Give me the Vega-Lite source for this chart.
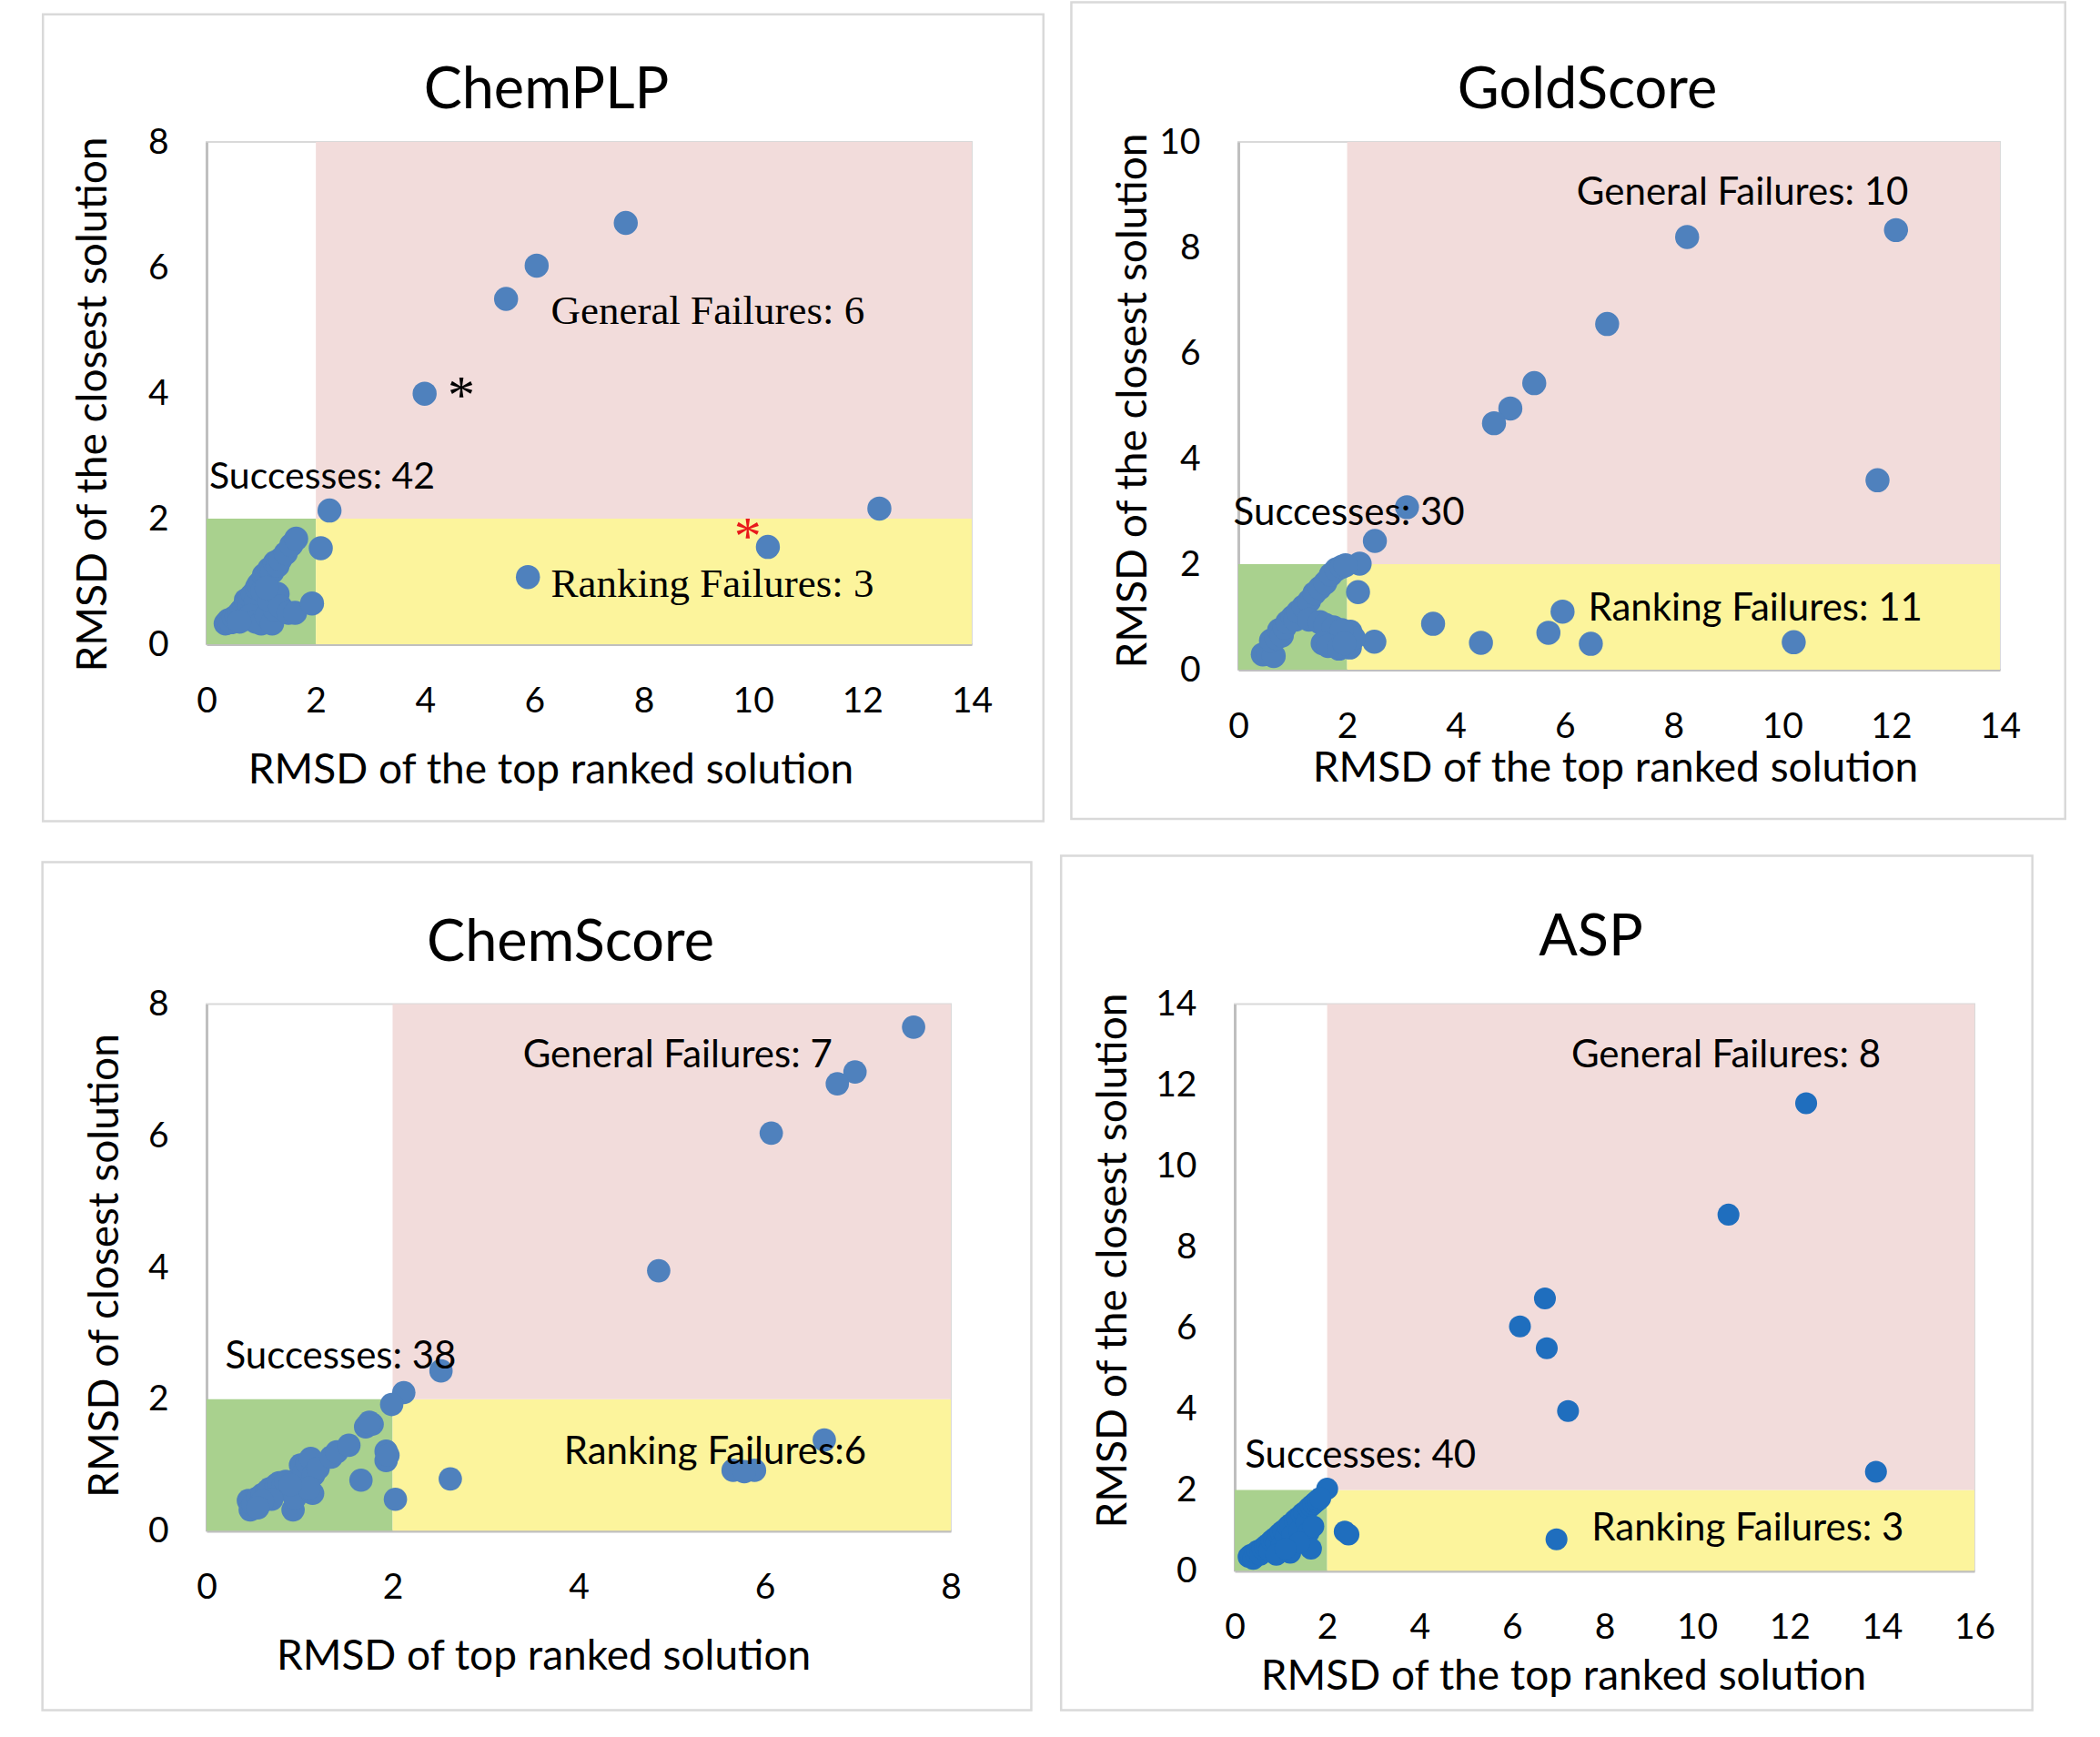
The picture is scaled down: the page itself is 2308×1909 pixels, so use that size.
{
  "$schema": "https://vega.github.io/schema/vega-lite/v6.json",
  "background": "white",
  "padding": {"left": 44, "top": 0, "right": 0, "bottom": 0},
  "config": {
    "view": {"stroke": "#D9D9D9", "strokeWidth": 2},
    "axis": {"grid": false, "ticks": false, "tickSize": 0, "domainColor": "#BFBFBF", "domainWidth": 3, "labelFont": "Lato", "labelFontSize": 39, "labelColor": "#000000", "labelFlush": false, "labelOverlap": false, "labelBound": false, "format": "d", "titleFont": "Lato", "titleFontSize": 46, "titleFontWeight": "normal", "titleColor": "#000000", "titleBaseline": "alphabetic"},
    "axisX": {"labelPadding": 43, "labelAngle": 0},
    "axisY": {"labelPadding": 42},
    "title": {"font": "Lato", "fontSize": 63, "fontWeight": "normal", "color": "#000000", "baseline": "alphabetic", "anchor": "middle"}
  },
  "datasets": {
    "zones": [
      {"x1": 0, "x2": 2, "y1": 0, "y2": 2, "zone": "Success"},
      {"x1": 2, "x2": 100, "y1": 0, "y2": 2, "zone": "Ranking failure"},
      {"x1": 2, "x2": 100, "y1": 2, "y2": 100, "zone": "General failure"}
    ],
    "chemplp": [
      {"x": 7.67, "y": 6.71}, {"x": 6.04, "y": 6.03}, {"x": 5.48, "y": 5.5}, {"x": 3.99, "y": 3.99}, {"x": 2.25, "y": 2.13}, {"x": 12.31, "y": 2.16},
      {"x": 10.27, "y": 1.55}, {"x": 5.88, "y": 1.07}, {"x": 2.09, "y": 1.53},
      {"x": 0.35, "y": 0.33}, {"x": 0.4, "y": 0.38}, {"x": 0.45, "y": 0.35}, {"x": 0.5, "y": 0.42}, {"x": 0.55, "y": 0.45}, {"x": 0.6, "y": 0.5}, {"x": 0.65, "y": 0.55}, {"x": 0.7, "y": 0.6}, {"x": 0.72, "y": 0.7}, {"x": 0.78, "y": 0.65}, {"x": 0.8, "y": 0.75}, {"x": 0.85, "y": 0.8}, {"x": 0.9, "y": 0.7}, {"x": 0.92, "y": 0.9}, {"x": 0.95, "y": 0.95}, {"x": 1.0, "y": 1.0}, {"x": 1.02, "y": 0.85}, {"x": 1.05, "y": 1.1}, {"x": 1.1, "y": 1.05}, {"x": 1.15, "y": 1.2}, {"x": 1.2, "y": 1.15}, {"x": 1.25, "y": 1.3}, {"x": 1.3, "y": 1.25}, {"x": 1.35, "y": 1.35}, {"x": 1.45, "y": 1.45}, {"x": 1.55, "y": 1.58}, {"x": 1.64, "y": 1.68},
      {"x": 0.7, "y": 0.4}, {"x": 0.8, "y": 0.45}, {"x": 0.9, "y": 0.36}, {"x": 1.0, "y": 0.33}, {"x": 1.1, "y": 0.45}, {"x": 1.2, "y": 0.33}, {"x": 1.25, "y": 0.55}, {"x": 1.15, "y": 0.7}, {"x": 1.3, "y": 0.8}, {"x": 1.35, "y": 0.6}, {"x": 1.5, "y": 0.5}, {"x": 1.62, "y": 0.5}, {"x": 1.93, "y": 0.65}, {"x": 1.1, "y": 0.9}, {"x": 0.6, "y": 0.36}
    ],
    "goldscore": [
      {"x": 8.25, "y": 8.2}, {"x": 12.09, "y": 8.33}, {"x": 6.78, "y": 6.55}, {"x": 5.44, "y": 5.43}, {"x": 5.0, "y": 4.95}, {"x": 4.7, "y": 4.67}, {"x": 11.75, "y": 3.59}, {"x": 3.1, "y": 3.08}, {"x": 2.51, "y": 2.44}, {"x": 2.23, "y": 2.01},
      {"x": 2.2, "y": 1.47}, {"x": 2.5, "y": 0.53}, {"x": 2.06, "y": 0.72}, {"x": 3.58, "y": 0.87}, {"x": 4.46, "y": 0.51}, {"x": 5.7, "y": 0.7}, {"x": 5.96, "y": 1.1}, {"x": 6.48, "y": 0.49}, {"x": 10.21, "y": 0.52}, {"x": 2.05, "y": 0.42}, {"x": 2.12, "y": 0.6},
      {"x": 0.45, "y": 0.29}, {"x": 0.55, "y": 0.3}, {"x": 0.65, "y": 0.26}, {"x": 0.6, "y": 0.55}, {"x": 0.7, "y": 0.6}, {"x": 0.75, "y": 0.75}, {"x": 0.8, "y": 0.65}, {"x": 0.85, "y": 0.8}, {"x": 0.9, "y": 0.9}, {"x": 1.0, "y": 1.0}, {"x": 1.05, "y": 0.95}, {"x": 1.1, "y": 1.1}, {"x": 1.2, "y": 1.2}, {"x": 1.3, "y": 1.3}, {"x": 1.4, "y": 1.45}, {"x": 1.5, "y": 1.55}, {"x": 1.6, "y": 1.65}, {"x": 1.7, "y": 1.8}, {"x": 1.8, "y": 1.9}, {"x": 1.9, "y": 1.95}, {"x": 1.97, "y": 1.98},
      {"x": 1.3, "y": 0.95}, {"x": 1.5, "y": 0.9}, {"x": 1.6, "y": 0.85}, {"x": 1.75, "y": 0.8}, {"x": 1.9, "y": 0.75}, {"x": 1.55, "y": 0.5}, {"x": 1.65, "y": 0.45}, {"x": 1.85, "y": 0.4}, {"x": 1.95, "y": 0.5}
    ],
    "chemscore": [
      {"x": 7.6, "y": 7.65}, {"x": 6.97, "y": 6.97}, {"x": 6.78, "y": 6.79}, {"x": 6.07, "y": 6.04}, {"x": 4.86, "y": 3.95}, {"x": 2.52, "y": 2.43}, {"x": 2.12, "y": 2.1},
      {"x": 6.64, "y": 1.38}, {"x": 5.66, "y": 0.92}, {"x": 5.89, "y": 0.92}, {"x": 5.78, "y": 0.9}, {"x": 2.62, "y": 0.79}, {"x": 2.03, "y": 0.48},
      {"x": 0.45, "y": 0.46}, {"x": 0.47, "y": 0.32}, {"x": 0.5, "y": 0.4}, {"x": 0.55, "y": 0.5}, {"x": 0.6, "y": 0.55}, {"x": 0.65, "y": 0.6}, {"x": 0.68, "y": 0.64}, {"x": 0.72, "y": 0.55}, {"x": 0.75, "y": 0.7}, {"x": 0.78, "y": 0.73}, {"x": 0.82, "y": 0.68}, {"x": 0.85, "y": 0.75}, {"x": 0.93, "y": 0.32}, {"x": 0.95, "y": 0.5}, {"x": 1.0, "y": 0.82}, {"x": 1.01, "y": 1.0}, {"x": 1.05, "y": 0.9}, {"x": 1.08, "y": 1.03}, {"x": 1.12, "y": 1.1}, {"x": 1.14, "y": 0.57}, {"x": 1.15, "y": 0.85}, {"x": 1.2, "y": 0.95}, {"x": 1.34, "y": 1.12}, {"x": 1.4, "y": 1.2}, {"x": 1.53, "y": 1.3}, {"x": 1.66, "y": 0.77}, {"x": 1.71, "y": 1.58}, {"x": 1.78, "y": 1.62}, {"x": 1.75, "y": 1.65}, {"x": 1.93, "y": 1.21}, {"x": 1.93, "y": 1.07}, {"x": 1.95, "y": 1.15}, {"x": 1.99, "y": 1.92}, {"x": 0.7, "y": 0.48}, {"x": 0.6, "y": 0.45}, {"x": 1.1, "y": 0.65}, {"x": 0.9, "y": 0.7}, {"x": 0.55, "y": 0.35}
    ],
    "asp": [
      {"x": 12.36, "y": 11.55}, {"x": 10.68, "y": 8.8}, {"x": 6.71, "y": 6.73}, {"x": 6.17, "y": 6.04}, {"x": 6.75, "y": 5.5}, {"x": 7.21, "y": 3.95}, {"x": 13.87, "y": 2.45}, {"x": 2.0, "y": 2.03},
      {"x": 2.38, "y": 0.97}, {"x": 2.46, "y": 0.9}, {"x": 6.96, "y": 0.78},
      {"x": 0.3, "y": 0.35}, {"x": 0.35, "y": 0.4}, {"x": 0.4, "y": 0.3}, {"x": 0.45, "y": 0.45}, {"x": 0.5, "y": 0.5}, {"x": 0.55, "y": 0.4}, {"x": 0.6, "y": 0.55}, {"x": 0.65, "y": 0.6}, {"x": 0.7, "y": 0.65}, {"x": 0.75, "y": 0.5},
      {"x": 0.8, "y": 0.75}, {"x": 0.85, "y": 0.8}, {"x": 0.9, "y": 0.7}, {"x": 0.95, "y": 0.9}, {"x": 1.0, "y": 0.95}, {"x": 1.0, "y": 0.6}, {"x": 1.05, "y": 1.0}, {"x": 1.1, "y": 0.85}, {"x": 1.15, "y": 1.1}, {"x": 1.2, "y": 1.15},
      {"x": 1.25, "y": 0.9}, {"x": 1.3, "y": 1.25}, {"x": 1.35, "y": 1.3}, {"x": 1.4, "y": 1.0}, {"x": 1.45, "y": 1.4}, {"x": 1.5, "y": 1.45}, {"x": 1.55, "y": 1.2}, {"x": 1.6, "y": 1.55}, {"x": 1.65, "y": 1.6}, {"x": 1.7, "y": 1.65},
      {"x": 1.75, "y": 1.7}, {"x": 1.8, "y": 1.75}, {"x": 1.85, "y": 1.8}, {"x": 1.6, "y": 0.95}, {"x": 1.65, "y": 0.55}, {"x": 1.2, "y": 0.45}, {"x": 0.9, "y": 0.4}, {"x": 1.4, "y": 0.7}, {"x": 1.7, "y": 1.1}, {"x": 1.1, "y": 0.55}
    ]
  },
  "spacing": 32.5,
  "vconcat": [
    {
      "spacing": 25,
      "hconcat": [
        {
          "width": 841, "height": 552,
          "title": {"text": "ChemPLP", "dx": -47, "offset": -117},
          "layer": [
            {"data": {"values": [{}]}, "mark": {"type": "rect", "clip": false, "fill": "#ffffff", "fillOpacity": 0, "stroke": "#D9D9D9", "strokeWidth": 2.5},
             "encoding": {"x": {"datum": -2.993, "type": "quantitative"}, "x2": {"datum": 15.311}, "y": {"datum": -2.818, "type": "quantitative"}, "y2": {"datum": 10.031}}},
            {"data": {"name": "zones"}, "mark": {"type": "rect", "clip": true},
             "encoding": {"x": {"field": "x1", "type": "quantitative"}, "x2": {"field": "x2"}, "y": {"field": "y1", "type": "quantitative"}, "y2": {"field": "y2"},
               "color": {"field": "zone", "type": "nominal", "scale": {"domain": ["Success", "Ranking failure", "General failure"], "range": ["#A9D18E", "#FCF49C", "#F2DCDB"]}, "legend": null}}},
            {"data": {"name": "chemplp"}, "mark": {"type": "circle", "size": 700, "opacity": 1, "color": "#4F81BD"},
             "encoding": {
               "x": {"field": "x", "type": "quantitative", "scale": {"domain": [0, 14], "nice": false, "zero": false}, "axis": {"values": [0, 2, 4, 6, 8, 10, 12, 14], "title": "RMSD of the top ranked solution", "titleX": 378, "titleY": 152.5}},
               "y": {"field": "y", "type": "quantitative", "scale": {"domain": [0, 8], "nice": false, "zero": false}, "axis": {"values": [0, 2, 4, 6, 8], "title": "RMSD of the closest solution", "titleX": -111, "titleY": 288}}}},
            {"data": {"values": [{"label": "Successes: 42", "x": 0.05, "y": 2.65}]}, "mark": {"type": "text", "font": "Lato", "fontSize": 41, "align": "left", "baseline": "middle", "color": "#000000"},
             "encoding": {"x": {"field": "x", "type": "quantitative"}, "y": {"field": "y", "type": "quantitative"}, "text": {"field": "label"}}},
            {"data": {"values": [{"label": "General Failures: 6", "x": 6.3, "y": 5.3}, {"label": "Ranking Failures: 3", "x": 6.3, "y": 0.96}]}, "mark": {"type": "text", "font": "Liberation Serif", "fontSize": 45, "align": "left", "baseline": "middle", "color": "#000000"},
             "encoding": {"x": {"field": "x", "type": "quantitative"}, "y": {"field": "y", "type": "quantitative"}, "text": {"field": "label"}}},
            {"data": {"values": [{"label": "*", "x": 4.66, "y": 3.68}]}, "mark": {"type": "text", "font": "Liberation Serif", "fontSize": 60, "align": "center", "baseline": "alphabetic", "color": "#000000"},
             "encoding": {"x": {"field": "x", "type": "quantitative"}, "y": {"field": "y", "type": "quantitative"}, "text": {"field": "label"}}},
            {"data": {"values": [{"label": "*", "x": 9.9, "y": 1.43}]}, "mark": {"type": "text", "font": "Liberation Serif", "fontSize": 60, "align": "center", "baseline": "alphabetic", "color": "#E8191B"},
             "encoding": {"x": {"field": "x", "type": "quantitative"}, "y": {"field": "y", "type": "quantitative"}, "text": {"field": "label"}}}
          ]
        },
        {
          "width": 837, "height": 580,
          "title": {"text": "GoldScore", "dx": -35, "offset": -130.5},
          "layer": [
            {"data": {"values": [{}]}, "mark": {"type": "rect", "clip": false, "fill": "#ffffff", "fillOpacity": 0, "stroke": "#D9D9D9", "strokeWidth": 2.5},
             "encoding": {"x": {"datum": -3.07, "type": "quantitative"}, "x2": {"datum": 15.2}, "y": {"datum": -2.826, "type": "quantitative"}, "y2": {"datum": 12.645}}},
            {"data": {"name": "zones"}, "mark": {"type": "rect", "clip": true},
             "encoding": {"x": {"field": "x1", "type": "quantitative"}, "x2": {"field": "x2"}, "y": {"field": "y1", "type": "quantitative"}, "y2": {"field": "y2"},
               "color": {"field": "zone", "type": "nominal", "scale": {"domain": ["Success", "Ranking failure", "General failure"], "range": ["#A9D18E", "#FCF49C", "#F2DCDB"]}, "legend": null}}},
            {"data": {"name": "goldscore"}, "mark": {"type": "circle", "size": 700, "opacity": 1, "color": "#4F81BD"},
             "encoding": {
               "x": {"field": "x", "type": "quantitative", "scale": {"domain": [0, 14], "nice": false, "zero": false}, "axis": {"values": [0, 2, 4, 6, 8, 10, 12, 14], "title": "RMSD of the top ranked solution", "titleX": 414, "titleY": 122.5}},
               "y": {"field": "y", "type": "quantitative", "scale": {"domain": [0, 10], "nice": false, "zero": false}, "axis": {"values": [0, 2, 4, 6, 8, 10], "title": "RMSD of the closest solution", "titleX": -102, "titleY": 284}}}},
            {"data": {"values": [{"label": "General Failures: 10", "x": 6.22, "y": 9.04}, {"label": "Successes: 30", "x": -0.09, "y": 2.96}, {"label": "Ranking Failures: 11", "x": 6.43, "y": 1.16}]}, "mark": {"type": "text", "font": "Lato", "fontSize": 42, "align": "left", "baseline": "middle", "color": "#000000"},
             "encoding": {"x": {"field": "x", "type": "quantitative"}, "y": {"field": "y", "type": "quantitative"}, "text": {"field": "label"}}}
          ]
        }
      ]
    },
    {
      "spacing": 27,
      "hconcat": [
        {
          "width": 818, "height": 579,
          "title": {"text": "ChemScore", "dx": -9, "offset": -123},
          "layer": [
            {"data": {"values": [{}]}, "mark": {"type": "rect", "clip": false, "fill": "#ffffff", "fillOpacity": 0, "stroke": "#D9D9D9", "strokeWidth": 2.5},
             "encoding": {"x": {"datum": -1.764, "type": "quantitative"}, "x2": {"datum": 8.865}, "y": {"datum": -2.721, "type": "quantitative"}, "y2": {"datum": 10.154}}},
            {"data": {"name": "zones"}, "mark": {"type": "rect", "clip": true},
             "encoding": {"x": {"field": "x1", "type": "quantitative"}, "x2": {"field": "x2"}, "y": {"field": "y1", "type": "quantitative"}, "y2": {"field": "y2"},
               "color": {"field": "zone", "type": "nominal", "scale": {"domain": ["Success", "Ranking failure", "General failure"], "range": ["#A9D18E", "#FCF49C", "#F2DCDB"]}, "legend": null}}},
            {"data": {"name": "chemscore"}, "mark": {"type": "circle", "size": 660, "opacity": 1, "color": "#4F81BD"},
             "encoding": {
               "x": {"field": "x", "type": "quantitative", "scale": {"domain": [0, 8], "nice": false, "zero": false}, "axis": {"values": [0, 2, 4, 6, 8], "title": "RMSD of top ranked solution", "titleX": 370, "titleY": 151.5}},
               "y": {"field": "y", "type": "quantitative", "scale": {"domain": [0, 8], "nice": false, "zero": false}, "axis": {"values": [0, 2, 4, 6, 8], "title": "RMSD of closest solution", "titleX": -98, "titleY": 287}}}},
            {"data": {"values": [{"label": "General Failures: 7", "x": 3.4, "y": 7.22}, {"label": "Successes: 38", "x": 0.2, "y": 2.645}, {"label": "Ranking Failures:6", "x": 3.84, "y": 1.2}]}, "mark": {"type": "text", "font": "Lato", "fontSize": 42, "align": "left", "baseline": "middle", "color": "#000000"},
             "encoding": {"x": {"field": "x", "type": "quantitative"}, "y": {"field": "y", "type": "quantitative"}, "text": {"field": "label"}}}
          ]
        },
        {
          "width": 813, "height": 623,
          "title": {"text": "ASP", "dx": -15, "offset": -124},
          "layer": [
            {"data": {"values": [{}]}, "mark": {"type": "rect", "clip": false, "fill": "#ffffff", "fillOpacity": 0, "stroke": "#D9D9D9", "strokeWidth": 2.5},
             "encoding": {"x": {"datum": -3.755, "type": "quantitative"}, "x2": {"datum": 17.253}, "y": {"datum": -3.437, "type": "quantitative"}, "y2": {"datum": 17.661}}},
            {"data": {"name": "zones"}, "mark": {"type": "rect", "clip": true},
             "encoding": {"x": {"field": "x1", "type": "quantitative"}, "x2": {"field": "x2"}, "y": {"field": "y1", "type": "quantitative"}, "y2": {"field": "y2"},
               "color": {"field": "zone", "type": "nominal", "scale": {"domain": ["Success", "Ranking failure", "General failure"], "range": ["#A9D18E", "#FCF49C", "#F2DCDB"]}, "legend": null}}},
            {"data": {"name": "asp"}, "mark": {"type": "circle", "size": 580, "opacity": 1, "color": "#1F6EBE"},
             "encoding": {
               "x": {"field": "x", "type": "quantitative", "scale": {"domain": [0, 16], "nice": false, "zero": false}, "axis": {"values": [0, 2, 4, 6, 8, 10, 12, 14, 16], "title": "RMSD of the top ranked solution", "titleX": 361, "titleY": 130}},
               "y": {"field": "y", "type": "quantitative", "scale": {"domain": [0, 14], "nice": false, "zero": false}, "axis": {"values": [0, 2, 4, 6, 8, 10, 12, 14], "title": "RMSD of the closest solution", "titleX": -119.5, "titleY": 281.6}}}},
            {"data": {"values": [{"label": "General Failures: 8", "x": 7.28, "y": 12.73}, {"label": "Successes: 40", "x": 0.22, "y": 2.84}, {"label": "Ranking Failures: 3", "x": 7.72, "y": 1.05}]}, "mark": {"type": "text", "font": "Lato", "fontSize": 42, "align": "left", "baseline": "middle", "color": "#000000"},
             "encoding": {"x": {"field": "x", "type": "quantitative"}, "y": {"field": "y", "type": "quantitative"}, "text": {"field": "label"}}}
          ]
        }
      ]
    }
  ]
}
